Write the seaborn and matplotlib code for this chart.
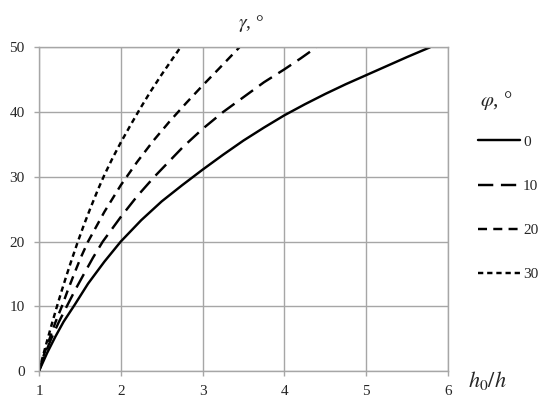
import pandas as pd
import seaborn as sns
import matplotlib.pyplot as plt

# curves gamma(h0/h) for each friction angle phi
phi_labels = ["0", "10", "20", "30"]

x_phi0 = [1, 1.1, 1.2, 1.3, 1.44, 1.6, 1.8, 2, 2.25, 2.5, 2.75, 3, 3.25, 3.5,
          3.75, 4, 4.25, 4.5, 4.75, 5, 5.25, 5.5, 5.78]
y_phi0 = [0, 2.8, 5.3, 7.6, 10.3, 13.5, 16.9, 20, 23.3, 26.2, 28.7, 31.1, 33.4, 35.6,
          37.6, 39.5, 41.2, 42.8, 44.3, 45.7, 47.1, 48.5, 50]

x_phi10 = [1, 1.07, 1.15, 1.24, 1.34, 1.45, 1.55, 1.66, 1.78, 2, 2.2, 2.41, 2.6,
           2.76, 3, 3.25, 3.5, 3.75, 4, 4.2, 4.39]
y_phi10 = [0, 2.5, 5, 7.5, 10, 12.7, 15, 17.5, 20, 23.8, 27, 30, 32.5,
           34.6, 37.4, 40, 42.3, 44.6, 46.6, 48.3, 50]

x_phi20 = [1, 1.06, 1.13, 1.2, 1.28, 1.35, 1.43, 1.51, 1.6, 1.8, 2, 2.2, 2.4,
           2.6, 2.8, 3, 3.2, 3.45]
y_phi20 = [0, 2.5, 5, 7.5, 10, 12.4, 15, 17.5, 20, 24.6, 28.7, 32.3, 35.6,
           38.6, 41.4, 44.1, 46.7, 50]

x_phi30 = [1, 1.05, 1.1, 1.16, 1.22, 1.28, 1.34, 1.4, 1.47, 1.55, 1.63, 1.72, 1.8,
           1.9, 2, 2.12, 2.23, 2.36, 2.5, 2.62, 2.73]
y_phi30 = [0, 2.4, 4.7, 7.4, 10, 12.5, 14.9, 17.2, 19.8, 22.6, 25.2, 28, 30.3,
           32.9, 35.3, 38, 40.4, 43.1, 45.8, 48, 50]

x_ticks = [1, 2, 3, 4, 5, 6]
y_ticks = [0, 10, 20, 30, 40, 50]

curves = zip(phi_labels, [x_phi0, x_phi10, x_phi20, x_phi30], [y_phi0, y_phi10, y_phi20, y_phi30])
df = pd.concat([pd.DataFrame({"h0_h": xs, "gamma": ys, "phi": lab}) for lab, xs, ys in curves],
               ignore_index=True)

sns.set_style("white")
plt.rcParams["font.family"] = ["Liberation Serif", "DejaVu Serif"]
plt.rcParams["mathtext.fontset"] = "stix"
plt.rcParams["lines.scale_dashes"] = False

grey = "#a6a6a6"
fig = plt.figure(figsize=(5.5, 4.09), dpi=100)
ax = fig.add_axes([0.0709, 0.0929, 0.7436, 0.7914])

dash_styles = {"0": "", "10": (11, 5.5), "20": (6.5, 4.5), "30": (3.8, 2.8)}
sns.lineplot(data=df, x="h0_h", y="gamma", style="phi", dashes=dash_styles,
             color="black", lw=1.75, sort=False, estimator=None, ax=ax)

ax.set_xlim(1, 6)
ax.set_ylim(0, 50)
ax.set_xticks(x_ticks)
ax.set_yticks(y_ticks)
ax.set_xlabel("")
ax.set_ylabel("")
ax.grid(True, color=grey, lw=1.0)
for sp in ax.spines.values():
    sp.set_color(grey)
    sp.set_linewidth(1.0)
ax.tick_params(bottom=True, left=True, direction="out", length=3.3, width=1.0,
               color=grey, pad=7, labelsize=11)

handles, labels = ax.get_legend_handles_labels()
ax.legend(handles, labels, loc="upper left", bbox_to_anchor=(0.869, 0.67),
          bbox_transform=fig.transFigure, frameon=False, handlelength=2.75,
          handletextpad=0.2, labelspacing=2.0, borderpad=0, borderaxespad=0,
          fontsize=11)

fig.text(251 / 550, 1 - 23 / 409, r"$\gamma$, °", ha="center", va="center", fontsize=14)
fig.text(496 / 550, 1 - 101 / 409, r"$\varphi$, °", ha="center", va="center", fontsize=15)
fig.text(487 / 550, 1 - 381 / 409, r"$h_0/h$", ha="center", va="center", fontsize=16)

fig.savefig("out.png", dpi=100)
